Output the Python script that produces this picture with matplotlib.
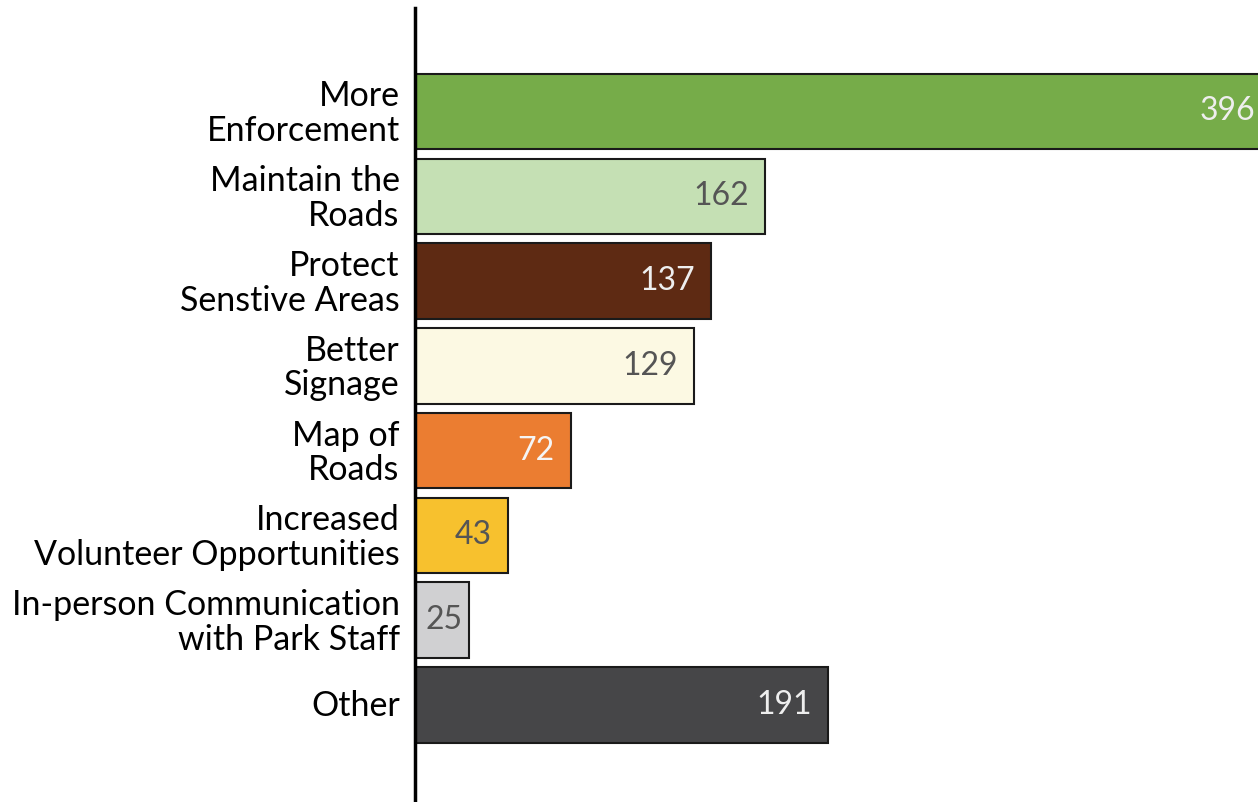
import numpy as np
import matplotlib.pyplot as plt
import matplotlib.transforms as mtransforms

plt.rcParams['font.family'] = ['Lato', 'DejaVu Sans']

categories = ['More\nEnforcement', 'Maintain the\nRoads', 'Protect\nSenstive Areas',
              'Better\nSignage', 'Map of\nRoads', 'Increased\nVolunteer Opportunities',
              'In-person Communication\nwith Park Staff', 'Other']
values = [396, 162, 137, 129, 72, 43, 25, 191]
colors = ['#76AC49', '#C5E0B4', '#5E2A13', '#FCF9E3', '#EB7D31', '#F7C12E', '#D0D0D2', '#464648']
label_colors = ['#EEEEEE', '#555555', '#EEEEEE', '#555555', '#F5F5F5', '#555555', '#555555', '#EEEEEE']

fig = plt.figure(figsize=(12.58, 8.02), dpi=100)
ax = fig.add_axes([415 / 1258, 2 / 802, 1 - 415 / 1258, 792 / 802])

y = np.arange(len(categories))
ax.barh(y, values, height=0.89, color=colors, edgecolor='#1a1a1a', linewidth=1.5)

# value labels inside bar ends; short bars get the label centred
for yi, v, c in zip(y, values, label_colors):
    if v < 30:
        ax.text(v / 2 + 0.8, yi, str(v), ha='center', va='center', fontsize=23, color=c)
    else:
        ax.text(v - 7.5, yi, str(v), ha='right', va='center', fontsize=23, color=c)

ax.set_xlim(0, 390)
ax.set_ylim(len(categories) - 1 + 1.12, -1.22)
ax.set_yticks(y)
ax.set_yticklabels(categories, fontsize=24.5, ha='right', linespacing=1.1)
ax.tick_params(axis='y', length=0, pad=11)
shift = mtransforms.ScaledTranslation(0, 2 / 100, fig.dpi_scale_trans)
for lab in ax.get_yticklabels():
    lab.set_transform(lab.get_transform() + shift)
ax.set_xticks([])
for s in ['top', 'right', 'bottom']:
    ax.spines[s].set_visible(False)
ax.spines['left'].set_linewidth(2.5)
ax.spines['left'].set_color('black')

fig.savefig('out.png', dpi=100)
